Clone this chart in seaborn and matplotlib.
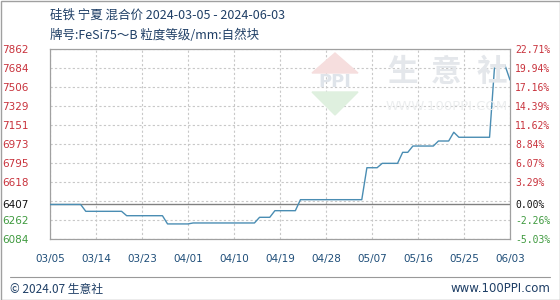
import numpy as np
import pandas as pd
import matplotlib
matplotlib.use("Agg")
import matplotlib.pyplot as plt
from matplotlib.patches import Polygon, Rectangle
import seaborn as sns

# ---- data ----
dates = ["2024-03-05", "2024-03-11", "2024-03-12", "2024-03-19", "2024-03-20",
         "2024-03-27", "2024-03-28", "2024-04-01", "2024-04-02", "2024-04-14",
         "2024-04-15", "2024-04-17", "2024-04-18", "2024-04-22", "2024-04-23",
         "2024-05-05", "2024-05-06", "2024-05-08", "2024-05-09", "2024-05-12",
         "2024-05-13", "2024-05-14", "2024-05-15", "2024-05-19", "2024-05-20",
         "2024-05-22", "2024-05-23", "2024-05-24", "2024-05-30", "2024-05-31",
         "2024-06-02", "2024-06-03"]
prices = [6407, 6407, 6343, 6343, 6302,
          6302, 6225, 6225, 6234, 6234,
          6287, 6287, 6349, 6349, 6452,
          6452, 6751, 6751, 6792, 6792,
          6895, 6895, 6954, 6954, 7001,
          7001, 7083, 7036, 7036, 7712,
          7712, 7572]
base_value = 6407
y_min, y_max = 6084, 7862
left_labels = ["6084", "6262", "6407", "6618", "6795", "6973", "7151", "7329", "7506", "7684", "7862"]
right_labels = ["-5.03%", "-2.26%", "0.00%", "3.29%", "6.07%", "8.84%", "11.62%", "14.39%", "17.16%", "19.94%", "22.71%"]
x_tick_dates = ["2024-03-05", "2024-03-14", "2024-03-23", "2024-04-01", "2024-04-10", "2024-04-19",
                "2024-04-28", "2024-05-07", "2024-05-16", "2024-05-25", "2024-06-03"]
x_tick_labels = ["03/05", "03/14", "03/23", "04/01", "04/10", "04/19", "04/28", "05/07", "05/16", "05/25", "06/03"]
title1 = "硅铁 宁夏 混合价 2024-03-05 - 2024-06-03"
title2 = "牌号:FeSi75～B 粒度等级/mm:自然块"
watermark_chars = ["生", "意", "社"]

df = pd.DataFrame({"date": pd.to_datetime(dates), "price": prices})

sns.set_style("white")
plt.rcParams["font.family"] = ["DejaVu Sans", "Noto Sans CJK SC"]
cjk = ["Noto Sans CJK SC", "DejaVu Sans"]

W, H = 560, 300
fig = plt.figure(figsize=(W / 100, H / 100), dpi=100)
fig.patch.set_facecolor("white")

L, R, T, B = 50, 510, 49, 239
ax = fig.add_axes([L / W, 1 - B / H, (R - L) / W, (B - T) / H])

sns.lineplot(data=df, x="date", y="price", ax=ax, color="#4a8db3", lw=1.0, zorder=5)

ax.set_ylim(y_min, y_max)
ax.set_xlim(pd.Timestamp("2024-03-05"), pd.Timestamp("2024-06-03"))

grid_vals = np.linspace(y_min, y_max, 11)
for gv in grid_vals:
    ax.axhline(gv, color="#c8c8c8", lw=0.8, ls=(0, (2, 2)), zorder=1)
xt = pd.to_datetime(x_tick_dates)
for d in xt:
    ax.axvline(d, color="#c8c8c8", lw=0.8, ls=(0, (2, 2)), zorder=1)
ax.axhline(base_value, color="#808080", lw=1.0, zorder=3)

tick_pos = [base_value if lab == str(base_value) else gv for lab, gv in zip(left_labels, grid_vals)]
red, green, black = "#c8323c", "#3f9a3f", "#111111"
def col(lab):
    v = int(lab)
    return red if v > base_value else (black if v == base_value else green)

ax.set_yticks(tick_pos)
ax.set_yticklabels(left_labels, fontsize=7.5)
for t, lab in zip(ax.get_yticklabels(), left_labels):
    t.set_color(col(lab))
ax.tick_params(axis="y", length=0, pad=15.5)

ax.set_xticks(xt)
ax.set_xticklabels(x_tick_labels, fontsize=7.5, color="#1f4e79")
ax.tick_params(axis="x", length=0, pad=10.5)
ax.set_xlabel("")
ax.set_ylabel("")
for s in ax.spines.values():
    s.set_color("#a0a0a0")
    s.set_linewidth(0.9)

ax2 = ax.twinx()
ax2.set_ylim(y_min, y_max)
ax2.set_yticks(tick_pos)
ax2.set_yticklabels(right_labels, fontsize=7, family="DejaVu Sans Mono")
for t, lab in zip(ax2.get_yticklabels(), left_labels):
    t.set_color(col(lab))
ax2.tick_params(axis="y", length=0, pad=3.6)
for s in ax2.spines.values():
    s.set_visible(False)

# watermark
for ch, cx in zip(watermark_chars, [402, 446, 492]):
    fig.text(cx / W, 1 - 72 / H, ch, family=cjk, fontsize=22, color="#e4e7eb",
             ha="center", va="center", fontweight="bold", zorder=0)
fig.text(447 / W, 1 - 107 / H, "WWW.100PPI.COM", fontsize=9.5, color="#eceeef",
         ha="center", va="center", zorder=0)
tri1 = Polygon([[312 / W, 1 - 73 / H], [358 / W, 1 - 73 / H], [335 / W, 1 - 53 / H]],
               closed=True, transform=fig.transFigure, color="#f6dede", zorder=0)
tri2 = Polygon([[312 / W, 1 - 92 / H], [358 / W, 1 - 92 / H], [335 / W, 1 - 115 / H]],
               closed=True, transform=fig.transFigure, color="#dff0df", zorder=0)
fig.patches.extend([tri1, tri2])
fig.text(335 / W, 1 - 82 / H, "PPI", fontsize=13, color="#dfe4ea", ha="center", va="center",
         fontweight="bold", zorder=0)

# titles
fig.text(50 / W, 1 - 15 / H, title1, family=cjk, fontsize=9, color="#1f3f66", ha="left", va="center")
fig.text(50 / W, 1 - 35 / H, title2, family=cjk, fontsize=9, color="#1f3f66", ha="left", va="center")

# footer
fig.add_artist(plt.Line2D([10 / W, 550 / W], [1 - 277 / H, 1 - 277 / H], color="#999999", lw=0.8,
                          transform=fig.transFigure))
fig.text(10 / W, 1 - 289 / H, "© 2024.07 生意社", family=cjk, fontsize=8.5, color="#1f3f66",
         ha="left", va="center")
fig.text(550 / W, 1 - 289 / H, "www.100PPI.com", fontsize=8.5, color="#1f3f66", ha="right", va="center")

fig.patches.append(Rectangle((0.5 / W, 0.5 / H), 1 - 1 / W, 1 - 1 / H, transform=fig.transFigure,
                             fill=False, edgecolor="#a0a0a0", lw=1))

fig.savefig("out.png", dpi=100, facecolor="white")
